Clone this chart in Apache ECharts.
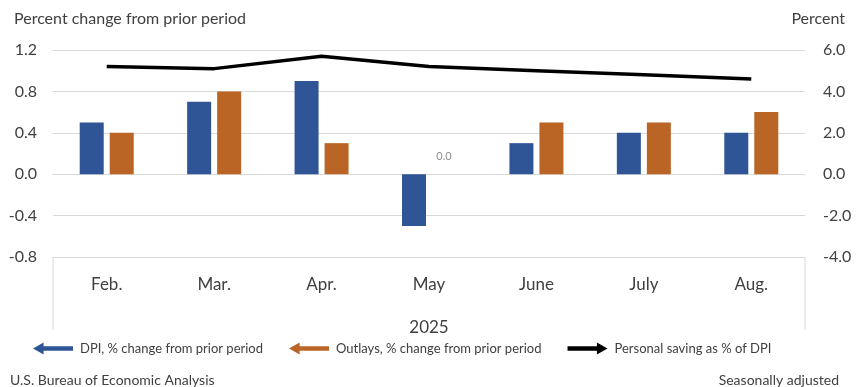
<!DOCTYPE html>
<html>
<head>
<meta charset="utf-8">
<script src="https://cdn.jsdelivr.net/npm/echarts@6/dist/echarts.min.js"></script>
<style>
  html, body { margin: 0; padding: 0; background: #fff; }
  #chart { width: 856px; height: 387px; }
</style>
</head>
<body>
<div id="chart"></div>
<script>
const months = ['Feb.', 'Mar.', 'Apr.', 'May', 'June', 'July', 'Aug.'];
const dpi = [0.5, 0.7, 0.9, -0.5, 0.3, 0.4, 0.4];
const outlays = [0.4, 0.8, 0.3, 0.0, 0.5, 0.5, 0.6];
const saving = [5.2, 5.1, 5.7, 5.2, 5.0, 4.8, 4.6];

const font = 'Lato';
const textColor = '#404040';
const gridColor = '#d9d9d9';

// plot box
const G = { left: 53, right: 51, top: 50, bottom: 130 };
const W = 856, H = 387;

const leftArrow = 'path://M0,5L9,0L9,3L34,3L34,7L9,7L9,10Z';
const rightArrow = 'path://M34,5L25,0L25,3L0,3L0,7L25,7L25,10Z';

const chart = echarts.init(document.getElementById('chart'));

chart.setOption({
    animation: false,
    textStyle: { fontFamily: font },
    title: [
        {
            text: 'Percent change from prior period',
            left: 9, top: 6,
            textStyle: { fontFamily: font, fontSize: 16, fontWeight: 'normal', color: textColor }
        },
        {
            text: 'Percent',
            right: 6, top: 6,
            textStyle: { fontFamily: font, fontSize: 16, fontWeight: 'normal', color: textColor }
        },
        {
            text: 'U.S. Bureau of Economic Analysis',
            left: 5, top: 368,
            textStyle: { fontFamily: font, fontSize: 14, fontWeight: 'normal', color: textColor }
        },
        {
            text: 'Seasonally adjusted',
            right: 12, top: 368,
            textStyle: { fontFamily: font, fontSize: 14, fontWeight: 'normal', color: textColor }
        }
    ],
    legend: {
        top: 337,
        left: 28,
        itemGap: 26,
        itemWidth: 40,
        itemHeight: 12,
        textStyle: { fontFamily: font, fontSize: 13, color: textColor, padding: [0, 0, 0, 2] },
        data: [
            { name: 'DPI, % change from prior period', icon: leftArrow, itemStyle: { color: '#2F5597' } },
            { name: 'Outlays, % change from prior period', icon: leftArrow, itemStyle: { color: '#BA6526' } },
            { name: 'Personal saving as % of DPI', icon: rightArrow, itemStyle: { color: '#000' } }
        ]
    },
    grid: { left: G.left, right: G.right, top: G.top, bottom: G.bottom },
    xAxis: {
        type: 'category',
        data: months,
        axisLine: { show: true, lineStyle: { color: gridColor } },
        axisTick: { show: false },
        axisLabel: { color: textColor, fontSize: 17, margin: 19, fontFamily: font },
        name: '2025',
        nameLocation: 'middle',
        nameGap: 62,
        nameTextStyle: { color: textColor, fontSize: 17, fontFamily: font }
    },
    yAxis: [
        {
            type: 'value',
            min: -0.8, max: 1.2, interval: 0.4,
            axisLine: { show: false },
            axisTick: { show: false },
            splitLine: { lineStyle: { color: gridColor } },
            axisLabel: {
                color: textColor, fontSize: 16, margin: 16, fontFamily: font,
                formatter: v => v.toFixed(1)
            }
        },
        {
            type: 'value',
            min: -4, max: 6, interval: 2,
            axisLine: { show: false },
            axisTick: { show: false },
            splitLine: { show: false },
            axisLabel: {
                color: textColor, fontSize: 16, margin: 18, fontFamily: font,
                formatter: v => v.toFixed(1)
            }
        }
    ],
    series: [
        {
            name: 'DPI, % change from prior period',
            type: 'bar',
            data: dpi,
            barWidth: 24,
            barGap: '25%',
            itemStyle: { color: '#2F5597' }
        },
        {
            name: 'Outlays, % change from prior period',
            type: 'bar',
            data: outlays,
            barWidth: 24,
            itemStyle: { color: '#BA6526' },
            label: {
                show: true,
                position: 'top',
                distance: 12,
                color: '#8c8c8c',
                fontSize: 11,
                fontFamily: font,
                formatter: p => p.value === 0 ? p.value.toFixed(1) : ''
            }
        },
        {
            name: 'Personal saving as % of DPI',
            type: 'line',
            yAxisIndex: 1,
            data: saving,
            symbol: 'none',
            lineStyle: { color: '#000', width: 3.5 },
            itemStyle: { color: '#000' }
        }
    ],
    graphic: [
        {
            type: 'polyline',
            silent: true,
            shape: { points: [[G.left, H - G.bottom], [G.left, 330]] },
            style: { stroke: gridColor, lineWidth: 1, fill: null }
        },
        {
            type: 'polyline',
            silent: true,
            shape: { points: [[W - G.right, H - G.bottom], [W - G.right, 330]] },
            style: { stroke: gridColor, lineWidth: 1, fill: null }
        }
    ]
});
</script>
</body>
</html>
